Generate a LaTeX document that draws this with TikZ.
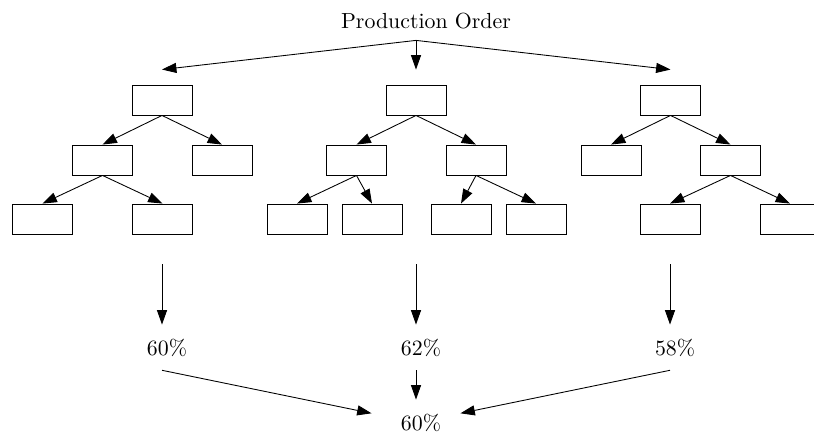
\documentclass[tikz,border=0pt]{standalone}
\usetikzlibrary{arrows.meta,calc}
\begin{document}
\begin{tikzpicture}[x=0.458pt,y=-0.458pt,
  box/.style={draw,minimum width=27.48pt,minimum height=13.74pt,inner sep=0pt},
  arr/.style={-{Triangle[length=6.6pt,width=4.6pt]}},
  pct/.style={inner xsep=0pt,inner ysep=6.24pt,minimum width=40.3pt,anchor=base},
]
\useasboundingbox (0,0) rectangle (814,435);
\node[anchor=base,inner xsep=0pt,inner ysep=4.8pt] (po) at (416,29) {\hspace*{9.16pt}Production Order};
% tree 1
\node[box] (a) at (162,100) {};
\node[box] (a1) at (102.5,160) {};
\node[box] (a2) at (222,160) {};
\node[box] (a11) at (42.5,219) {};
\node[box] (a12) at (162.5,219) {};
% tree 2
\node[box] (b) at (416,100) {};
\node[box] (b1) at (356.5,160) {};
\node[box] (b2) at (476,160) {};
\node[box] (b11) at (297,219) {};
\node[box] (b12) at (372,219) {};
\node[box] (b21) at (461,219) {};
\node[box] (b22) at (536,219) {};
% tree 3
\node[box] (c) at (670.5,100) {};
\node[box] (c1) at (611,160) {};
\node[box] (c2) at (730.5,160) {};
\node[box] (c21) at (670,219) {};
\node[box] (c22) at (790,219) {};
% top arrows
\draw[arr] (po.south) -- ($(a.north)+(0,-15)$);
\draw[arr] (po.south) -- ($(b.north)+(0,-15)$);
\draw[arr] (po.south) -- ($(c.north)+(0,-15)$);
% tree arrows
\draw[arr] (a.south) -- (a1.north);
\draw[arr] (a.south) -- (a2.north);
\draw[arr] (a1.south) -- (a11.north);
\draw[arr] (a1.south) -- (a12.north);
\draw[arr] (b.south) -- (b1.north);
\draw[arr] (b.south) -- (b2.north);
\draw[arr] (b1.south) -- (b11.north);
\draw[arr] (b1.south) -- (b12.north);
\draw[arr] (b2.south) -- (b21.north);
\draw[arr] (b2.south) -- (b22.north);
\draw[arr] (c.south) -- (c1.north);
\draw[arr] (c.south) -- (c2.north);
\draw[arr] (c2.south) -- (c21.north);
\draw[arr] (c2.south) -- (c22.north);
% percentages
\coordinate (t1) at (162,264);
\coordinate (t2) at (416,264);
\coordinate (t3) at (670,264);
\node[pct] (p1) at (162,355) {\hspace*{4.58pt}60\%};
\node[pct] (p2) at (416,355) {\hspace*{4.58pt}62\%};
\node[pct] (p3) at (670,355) {\hspace*{4.58pt}58\%};
\node[pct] (f) at (416,430) {\hspace*{4.58pt}60\%};
\draw[arr] (t1) -- (p1.north);
\draw[arr] (t2) -- (p2.north);
\draw[arr] (t3) -- (p3.north);
\draw[arr] (p1.south) -- (f);
\draw[arr] (p2.south) -- (f.north);
\draw[arr] (p3.south) -- (f);
\end{tikzpicture}
\end{document}
